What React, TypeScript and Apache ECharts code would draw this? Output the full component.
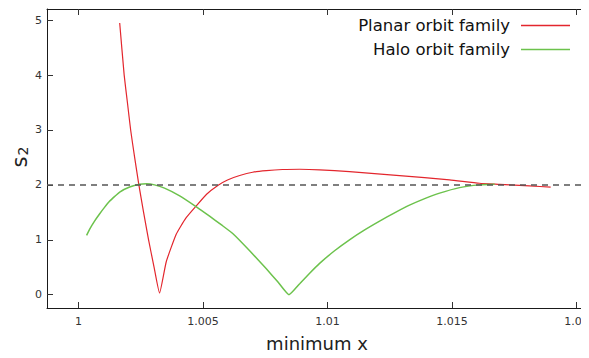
import React, { useEffect, useRef } from "react";
import * as echarts from "echarts";

const xTicks = [1, 1.005, 1.01, 1.015, 1.02];
const yTicks = [0, 1, 2, 3, 4, 5];

const planarX = [
  1.00165, 1.00183, 1.00196, 1.00209, 1.00225, 1.00242, 1.00261, 1.00281, 1.00303, 1.00325,
  1.00352, 1.00392, 1.0043, 1.00473, 1.00514, 1.00559, 1.00598, 1.00647, 1.00699, 1.00754,
  1.00819, 1.00888, 1.00968, 1.01088, 1.01289, 1.0149, 1.0161, 1.01691, 1.01811, 1.01896,
];
const planarY = [
  4.95, 4.0, 3.5, 3.0, 2.5, 2.0, 1.5, 1.0, 0.5, 0.03,
  0.6, 1.1, 1.39, 1.62, 1.83, 1.99, 2.09, 2.17, 2.23, 2.26,
  2.28, 2.285, 2.275, 2.24, 2.17, 2.09, 2.03, 2.01, 1.98, 1.96,
];

const haloX = [
  1.00032, 1.00044, 1.00064, 1.00084, 1.00104, 1.00124, 1.00145, 1.00165, 1.00205, 1.00245,
  1.00273, 1.00305, 1.00345, 1.00406, 1.00473, 1.00526, 1.00574, 1.0062, 1.00687, 1.00754,
  1.00799, 1.00845, 1.00888, 1.00928, 1.00968, 1.01028, 1.01088, 1.01149, 1.01209, 1.01269,
  1.01329, 1.0139, 1.0145, 1.0153, 1.0161, 1.01671,
];
const haloY = [
  1.08, 1.19, 1.34, 1.47, 1.59, 1.7, 1.79, 1.87, 1.96, 2.01,
  2.02, 2.0, 1.94, 1.8, 1.6, 1.43, 1.27, 1.11, 0.8, 0.47,
  0.24, 0.0, 0.2, 0.39, 0.57, 0.8, 1.0, 1.18, 1.34, 1.49,
  1.63, 1.75, 1.85, 1.95, 2.0, 2.01,
];

const referenceLevel = 2;
const yName = "s";
const yNameSub = "2";

const FONT = "DejaVu Sans";

export default function App() {
  const ref = useRef<HTMLDivElement>(null);
  useEffect(() => {
    if (!ref.current) return;
    const chart = echarts.init(ref.current, null, { renderer: "svg" });
    const xMin = 0.99873;
    const xMax = 1.02042;
    const yMin = -0.243;
    const yMax = 5.204;
    const fmtX = (v: number) => String(parseFloat(v.toFixed(3)));
    const axisLineStyle = { color: "#1a1a1a", width: 1 };
    chart.setOption({
      animation: false,
      textStyle: { fontFamily: FONT },
      grid: { left: 47, right: 2, top: 9, bottom: 50, containLabel: false, outerBoundsMode: "none" },
      graphic: [
        {
          type: "text",
          x: 19.5,
          y: 162,
          rotation: Math.PI / 2,
          style: {
            text: yName,
            fontSize: 21,
            fontFamily: FONT,
            fill: "#222",
            align: "center",
            verticalAlign: "middle",
          },
        },
        {
          type: "text",
          x: 23,
          y: 151,
          rotation: Math.PI / 2,
          style: {
            text: yNameSub,
            fontSize: 14,
            fontFamily: FONT,
            fill: "#222",
            align: "center",
            verticalAlign: "middle",
          },
        },
      ],
      legend: {
        orient: "vertical",
        align: "right",
        right: 14,
        top: 11,
        itemWidth: 49,
        itemHeight: 1.5,
        itemGap: 5,
        icon: "rect",
        data: ["Planar orbit family", "Halo orbit family"],
        textStyle: {
          fontSize: 16.5,
          color: "#111",
          fontFamily: FONT,
          lineHeight: 19,
          padding: [0, 6, 0, 0],
        },
      },
      xAxis: [
        {
          type: "value",
          position: "bottom",
          min: xMin,
          max: xMax,
          axisLine: { show: true, onZero: false, lineStyle: axisLineStyle },
          axisTick: { show: true, inside: true, length: 6, customValues: xTicks, lineStyle: { color: "#333" } },
          axisLabel: {
            customValues: xTicks,
            formatter: fmtX,
            fontSize: 11,
            color: "#333",
            margin: 8,
            fontFamily: FONT,
          },
          splitLine: { show: false },
          name: "minimum x",
          nameLocation: "middle",
          nameGap: 26,
          nameTextStyle: { fontSize: 18, color: "#222", fontFamily: FONT },
        },
        {
          type: "value",
          position: "top",
          min: xMin,
          max: xMax,
          axisLine: { show: true, onZero: false, lineStyle: axisLineStyle },
          axisTick: { show: true, inside: true, length: 6, customValues: xTicks, lineStyle: { color: "#333" } },
          axisLabel: { show: false },
          splitLine: { show: false },
        },
      ],
      yAxis: [
        {
          type: "value",
          position: "left",
          min: yMin,
          max: yMax,
          axisLine: { show: true, onZero: false, lineStyle: axisLineStyle },
          axisTick: { show: true, inside: true, length: 6, customValues: yTicks, lineStyle: { color: "#333" } },
          axisLabel: { customValues: yTicks, fontSize: 11, color: "#333", margin: 5, fontFamily: FONT },
          splitLine: { show: false },
        },
        {
          type: "value",
          position: "right",
          min: yMin,
          max: yMax,
          axisLine: { show: true, onZero: false, lineStyle: axisLineStyle },
          axisTick: { show: true, inside: true, length: 6, customValues: yTicks, lineStyle: { color: "#333" } },
          axisLabel: { show: false },
          splitLine: { show: false },
        },
      ],
      series: [
        {
          name: "Planar orbit family",
          type: "line",
          xAxisIndex: 0,
          yAxisIndex: 0,
          data: planarX.map((x, i) => [x, planarY[i]]),
          symbol: "none",
          smooth: 0.15,
          lineStyle: { color: "#e3262d", width: 1.2 },
          itemStyle: { color: "#e3262d" },
          markLine: {
            silent: true,
            symbol: "none",
            label: { show: false },
            lineStyle: { color: "#555", type: [6, 5], width: 1.5 },
            data: [{ yAxis: referenceLevel }],
          },
        },
        {
          name: "Halo orbit family",
          type: "line",
          xAxisIndex: 0,
          yAxisIndex: 0,
          data: haloX.map((x, i) => [x, haloY[i]]),
          symbol: "none",
          smooth: 0.15,
          lineStyle: { color: "#6cc24c", width: 1.5 },
          itemStyle: { color: "#6cc24c" },
        },
      ],
    });
    return () => chart.dispose();
  }, []);
  return <div ref={ref} style={{ width: 589, height: 358, margin: -8 }} />;
}
